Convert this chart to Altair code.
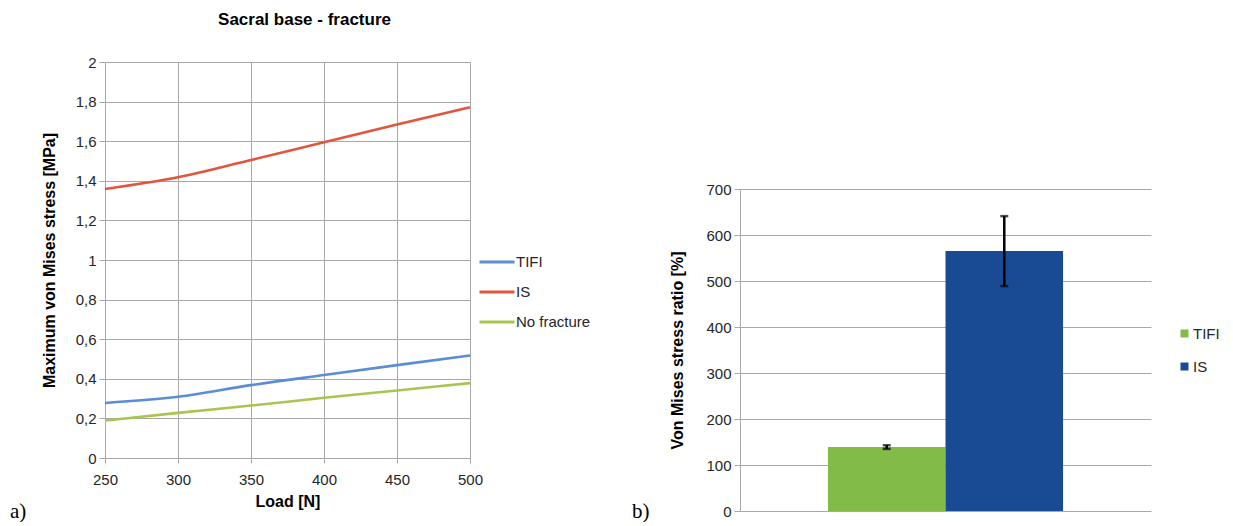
import altair as alt
import pandas as pd

# ---------------- data ----------------
loads = [250, 300, 350, 400, 450, 500]
tifi_stress = [0.278, 0.309, 0.368, 0.419, 0.469, 0.518]
is_stress = [1.359, 1.418, 1.505, 1.595, 1.684, 1.772]
nofrac_stress = [0.189, 0.228, 0.265, 0.304, 0.341, 0.378]
line_series = ["TIFI", "IS", "No fracture"]
line_colors = ["#5B8DD6", "#E2553B", "#A9C550"]

bar_series = ["TIFI", "IS"]
bar_values = [139, 565]
bar_err_low = [135, 489]
bar_err_high = [143, 641]
bar_colors = ["#82BB47", "#184B94"]

x_ticks_left = [250, 300, 350, 400, 450, 500]
y_ticks_left = [0, 0.2, 0.4, 0.6, 0.8, 1.0, 1.2, 1.4, 1.6, 1.8, 2.0]
y_ticks_right = [0, 100, 200, 300, 400, 500, 600, 700]

FONT = "Liberation Sans"
SERIF = "Liberation Serif"
GRID = "#A8A8A8"
LABEL = "#262626"

# ---------------- left: line chart ----------------
rows = []
for name, vals in zip(line_series, [tifi_stress, is_stress, nofrac_stress]):
    for x, v in zip(loads, vals):
        rows.append({"load": x, "stress": v, "series": name})
df_lines = pd.DataFrame(rows)

lines = alt.Chart(df_lines).mark_line(strokeWidth=2.6, interpolate="monotone").encode(
    x=alt.X("load:Q",
            scale=alt.Scale(domain=[250, 500], nice=False, zero=False),
            axis=alt.Axis(values=x_ticks_left, format="d", title="Load [N]",
                          grid=True, tickSize=5, labelPadding=9, titlePadding=6,
                          labelFlush=False)),
    y=alt.Y("stress:Q",
            scale=alt.Scale(domain=[0, 2], nice=False),
            axis=alt.Axis(values=y_ticks_left,
                          labelExpr="replace(format(datum.value, '.1~f'), '.', ',')",
                          title="Maximum von Mises stress [MPa]",
                          grid=True, tickSize=6, labelPadding=3, titlePadding=18,
                          labelFlush=False)),
    color=alt.Color("series:N",
                    scale=alt.Scale(domain=line_series, range=line_colors),
                    legend=alt.Legend(title=None, orient="none", legendX=373, legendY=181,
                                      symbolType="stroke", symbolSize=1225,
                                      symbolStrokeWidth=3, labelOffset=0,
                                      rowPadding=3, padding=0)),
)

a_label = alt.Chart(pd.DataFrame({"t": ["a)"]})).mark_text(
    font=SERIF, fontSize=21, align="left", baseline="alphabetic", color="black"
).encode(x=alt.value(-95), y=alt.value(456), text="t:N")

left = alt.layer(lines, a_label).properties(
    width=365, height=396,
    title=alt.TitleParams("Sacral base - fracture", fontSize=17, font=FONT,
                          fontWeight="bold", baseline="bottom", offset=9, dx=17,
                          color="black"),
)

# ---------------- right: bar chart ----------------
df_bars = pd.DataFrame({
    "grp": ["g"] * len(bar_series),
    "bseries": bar_series,
    "value": bar_values,
    "lo": bar_err_low,
    "hi": bar_err_high,
})

xenc = alt.X("grp:N", scale=alt.Scale(paddingInner=0, paddingOuter=0.374), axis=None)
xoff = alt.XOffset("bseries:N", scale=alt.Scale(domain=bar_series, paddingInner=0, paddingOuter=0))
yscale = alt.Scale(domain=[0, 700], nice=False)

bars = alt.Chart(df_bars).mark_bar().encode(
    x=xenc, xOffset=xoff,
    y=alt.Y("value:Q", scale=yscale,
            axis=alt.Axis(values=y_ticks_right, title="Von Mises stress ratio [%]",
                          grid=True, tickSize=6, labelPadding=3, titlePadding=20)),
    color=alt.Color("bseries:N",
                    scale=alt.Scale(domain=bar_series, range=bar_colors),
                    legend=alt.Legend(title=None, orient="none", legendX=437, legendY=264,
                                      symbolType="square", symbolSize=64,
                                      symbolStrokeWidth=0, labelOffset=1,
                                      rowPadding=17, padding=0)),
)

err = alt.Chart(df_bars).mark_rule(color="black", strokeWidth=2.5).encode(
    x=xenc, xOffset=xoff, y=alt.Y("lo:Q", scale=yscale), y2="hi:Q")
cap_lo = alt.Chart(df_bars).mark_tick(color="black", thickness=2.5, size=8).encode(
    x=xenc, xOffset=xoff, y=alt.Y("lo:Q", scale=yscale))
cap_hi = alt.Chart(df_bars).mark_tick(color="black", thickness=2.5, size=8).encode(
    x=xenc, xOffset=xoff, y=alt.Y("hi:Q", scale=yscale))

b_label = alt.Chart(pd.DataFrame({"t": ["b)"]})).mark_text(
    font=SERIF, fontSize=21, align="left", baseline="alphabetic", color="black"
).encode(x=alt.value(-108), y=alt.value(329), text="t:N")

right = alt.layer(bars, err, cap_lo, cap_hi, b_label).properties(width=411, height=322)

# invisible spacer that pushes the bar chart down
spacer = alt.Chart(pd.DataFrame({"s": [0]})).mark_point(opacity=0).properties(
    width=411, height=120)

right_col = alt.vconcat(spacer, right, spacing=0)

chart = alt.hconcat(left, right_col, spacing=41).resolve_scale(
    color="independent").resolve_legend(color="independent").properties(
    padding={"left": 10, "top": 11, "right": 0, "bottom": 0}
).configure_view(stroke=None).configure_axis(
    labelFont=FONT, titleFont=FONT, labelFontSize=15, titleFontSize=16,
    titleFontWeight="bold", labelColor=LABEL, titleColor="black",
    gridColor=GRID, domainColor=GRID, tickColor=GRID, gridWidth=1,
).configure_legend(
    labelFont=FONT, labelFontSize=15, labelColor=LABEL,
)

chart.save("out.html", embed_options={"renderer": "svg", "actions": False})
